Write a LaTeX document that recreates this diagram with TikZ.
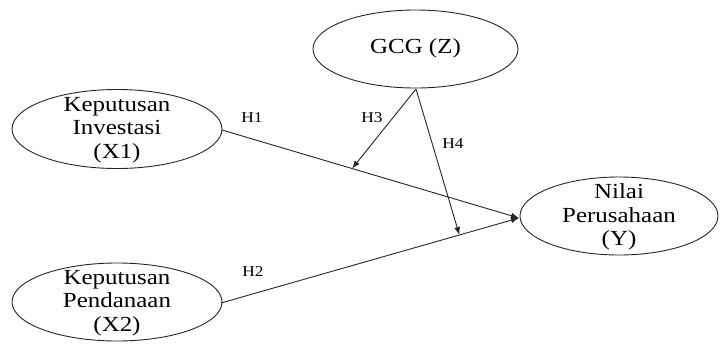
\documentclass[tikz,border=0pt]{standalone}
\usepackage{fontspec}
\setmainfont[FakeStretch=1.16]{Liberation Serif}
\usetikzlibrary{shapes.geometric,arrows.meta,calc}
\begin{document}
\begin{tikzpicture}[x=1pt,y=-1pt,
  ell/.style={draw=black!85,line width=0.9pt,ellipse,inner sep=0pt},
  txt/.style={align=center,font=\fontsize{21.5}{23.5}\selectfont,inner sep=0pt},
  hlab/.style={font=\fontsize{15}{17}\selectfont,inner sep=0pt},
  conn/.style={draw=black!85,line width=0.9pt,-{Latex[length=8pt,width=6pt]}}]
\useasboundingbox (0,0) rectangle (720,343);
% ellipses
\node[ell,minimum width=210pt,minimum height=79pt] (X1) at (117,129) {};
\node[ell,minimum width=210pt,minimum height=78pt] (X2) at (117,302) {};
\node[ell,minimum width=205pt,minimum height=78pt] (Z) at (415.5,49) {};
\node[ell,minimum width=198pt,minimum height=78pt] (Y) at (619,216) {};
% texts
\node[txt] (tX1) at (117,130) {Keputusan\\Investasi\\(X1)};
\node[txt] (tX2) at (117,303) {Keputusan\\Pendanaan\\(X2)};
\node[txt] (tZ) at (415.5,48) {GCG (Z)};
\node[txt] (tY) at (619,217) {Nilai\\Perusahaan\\(Y)};
% connector endpoints
\coordinate (s1) at (222,130);
\coordinate (s2) at (221,303);
\coordinate (tY1) at (519,218);
\coordinate (zb) at (416,89);
\coordinate (m3) at ($(s1)!0.438!(tY1)$);
\coordinate (m4) at ($(s2)!0.80!(tY1)$);
% connectors
\draw[conn] (s1) -- (tY1);
\draw[conn] (s2) -- (tY1);
\draw[conn] (zb) -- (m3);
\draw[conn] (zb) -- (m4);
% labels
\node[hlab] (h1) at (252,118) {H1};
\node[hlab] (h2) at (253,272) {H2};
\node[hlab] (h3) at (372,118) {H3};
\node[hlab] (h4) at (453,144) {H4};
\end{tikzpicture}
\end{document}
